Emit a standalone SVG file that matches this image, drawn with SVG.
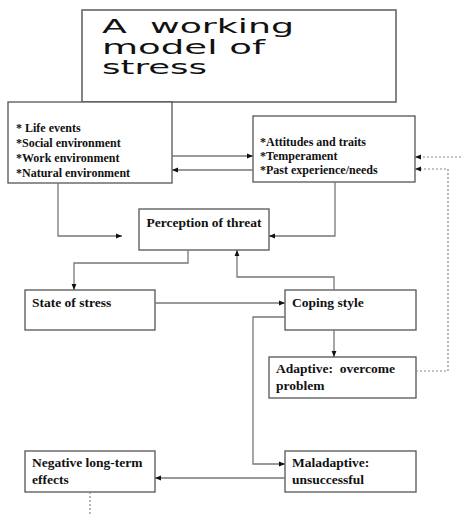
<svg xmlns="http://www.w3.org/2000/svg" width="461" height="516" viewBox="0 0 461 516">
<style>
.box{fill:#fff;stroke:#555;stroke-width:1.3}
.tbox{fill:#fff;stroke:#777;stroke-width:1.8}
.t{font-family:"Liberation Serif","Times New Roman",serif;font-weight:bold;fill:#111}
.s12{font-size:12px}
.s13{font-size:13.5px}
.title{font-family:"DejaVu Sans",Verdana,sans-serif;font-size:19px;fill:#111}
.ln{fill:none;stroke:#777;stroke-width:1.3}
.dot{fill:none;stroke:#888;stroke-width:1.2;stroke-dasharray:2,2}
</style>
<defs>
<marker id="ah" viewBox="0 0 10 10" refX="10" refY="5" markerWidth="6" markerHeight="6" orient="auto" markerUnits="userSpaceOnUse">
<path d="M0,1 L10,5 L0,9 Z" fill="#111"/>
</marker>
</defs>
<g id="title">
<rect class="tbox" x="82" y="10" width="314" height="92"/>
<text class="title" x="102" y="32.5" textLength="192" lengthAdjust="spacingAndGlyphs" xml:space="preserve">A  working</text>
<text class="title" x="102" y="54" textLength="163" lengthAdjust="spacingAndGlyphs">model of</text>
<text class="title" x="102" y="74" textLength="105" lengthAdjust="spacingAndGlyphs">stress</text>
</g>
<g id="env">
<rect class="box" x="8" y="102" width="164" height="81"/>
<text class="t s12" x="16" y="132">* Life events</text>
<text class="t s12" x="16" y="147">*Social environment</text>
<text class="t s12" x="16" y="162">*Work environment</text>
<text class="t s12" x="16" y="177">*Natural environment</text>
</g>
<g id="traits">
<rect class="box" x="253" y="116" width="162" height="66"/>
<text class="t s12" x="260" y="146">*Attitudes and traits</text>
<text class="t s12" x="260" y="160">*Temperament</text>
<text class="t s12" x="260" y="174">*Past experience/needs</text>
</g>
<g id="perception">
<rect class="box" x="139" y="209" width="130" height="41"/>
<text class="t s13" x="204" y="227" text-anchor="middle">Perception of threat</text>
</g>
<g id="state">
<rect class="box" x="25" y="290" width="130" height="40"/>
<text class="t s13" x="32" y="307">State of stress</text>
</g>
<g id="coping">
<rect class="box" x="285" y="290" width="131" height="40"/>
<text class="t s13" x="292" y="307">Coping style</text>
</g>
<g id="adaptive">
<rect class="box" x="269" y="357" width="147" height="41"/>
<text class="t s13" x="276" y="373" xml:space="preserve">Adaptive:  overcome</text>
<text class="t s13" x="276" y="390">problem</text>
</g>
<g id="maladaptive">
<rect class="box" x="285" y="451" width="131" height="41"/>
<text class="t s13" x="292" y="467">Maladaptive:</text>
<text class="t s13" x="292" y="484">unsuccessful</text>
</g>
<g id="negative">
<rect class="box" x="25" y="451" width="130" height="41"/>
<text class="t s13" x="32" y="467">Negative long-term</text>
<text class="t s13" x="32" y="484">effects</text>
</g>
<g id="connectors">
<path class="ln" d="M172,156 H253" marker-end="url(#ah)"/>
<path class="ln" d="M253,170 H172" marker-end="url(#ah)"/>
<path class="ln" d="M58,183 V236 H122" marker-end="url(#ah)"/>
<path class="ln" d="M335,182 V236 H269" marker-end="url(#ah)"/>
<path class="ln" d="M188,250 V263 H74 V290" marker-end="url(#ah)"/>
<path class="ln" d="M155,303 H285" marker-end="url(#ah)"/>
<path class="ln" d="M334,290 V277 H237 V250" marker-end="url(#ah)"/>
<path class="ln" d="M334,330 V357" marker-end="url(#ah)"/>
<path class="ln" d="M285,317 H253 V464 H285" marker-end="url(#ah)"/>
<path class="ln" d="M285,478 H155" marker-end="url(#ah)"/>
<path class="dot" d="M461,157 H415" marker-end="url(#ah)"/>
<path class="dot" d="M416,371 H448 V169 H415" marker-end="url(#ah)"/>
<path class="dot" d="M90,492 V516"/>
</g>
</svg>
